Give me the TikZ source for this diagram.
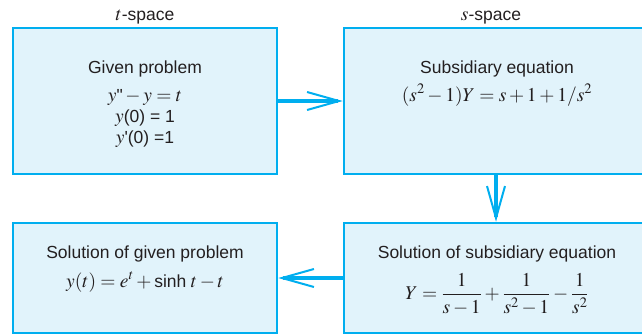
\documentclass[tikz,border=0pt]{standalone}
\usepackage{mathptmx}
\usepackage[no-math]{fontspec}
\setmainfont{Liberation Sans}
\usetikzlibrary{arrows.meta}
\definecolor{bcyan}{HTML}{00AEEF}
\definecolor{bfill}{HTML}{E1F3FB}
\definecolor{txt}{HTML}{231F20}
\newcommand{\MM}[1]{{\fontsize{19.5}{21}\selectfont$#1$}}
\newcommand{\TT}[1]{\mbox{\fontsize{17.5}{21}\selectfont #1}}
\begin{document}
\begin{tikzpicture}[x=1pt,y=-1pt,
  box/.style={draw=bcyan, fill=bfill, line width=2.5pt, inner sep=0pt, minimum width=264pt},
  lbl/.style={font=\fontsize{17.5}{21}\selectfont, text=txt, inner sep=0pt, anchor=base},
  flow/.style={draw=bcyan, line width=4pt, -{Straight Barb[length=32pt,width=18pt,line width=2pt]}}]
\useasboundingbox (0,0) rectangle (642,335);
% boxes
\node[box, minimum height=146pt] (tl) at (145,101) {};
\node[box, minimum height=146pt, minimum width=304pt] (tr) at (496,101) {};
\node[box, minimum height=110pt] (bl) at (145,278) {};
\node[box, minimum height=110pt, minimum width=304pt] (br) at (496,278) {};
% headers
\node[lbl] (th) at (145,20) {\MM{t}-space};
\node[lbl] (sh) at (491,20) {\MM{s}-space};
% top-left text
\node[lbl] (g1) at (145,73) {Given problem};
\node[lbl] (g2) at (145,101) {\MM{y\TT{\textquotedbl}-y=t}};
\node[lbl] (g3) at (145,122) {\MM{y}(0) = 1};
\node[lbl] (g4) at (145,143) {\MM{y}\textquotesingle(0) =1};
% top-right text
\node[lbl] (s1) at (497,73) {Subsidiary equation};
\node[lbl] (s2) at (497,101) {\MM{(s^2-1)Y=s+1+1/s^2}};
% bottom-left text
\node[lbl] (l1) at (145,258) {Solution of given problem};
\node[lbl] (l2) at (145,287) {\MM{y(t)=e^t+\TT{sinh}\;t-t}};
% bottom-right text
\node[lbl] (r1) at (497,258) {Solution of subsidiary equation};
\node[lbl, anchor=center] (r2) at (497,294) {\MM{\displaystyle Y=\frac{1}{s-1}+\frac{1}{s^2-1}-\frac{1}{s^2}}};
% connectors
\draw[flow] (tl.east) -- (tr.west);
\draw[flow] (tr.south) -- (br.north);
\draw[flow] (br.west) -- (bl.east);
\end{tikzpicture}
\end{document}
